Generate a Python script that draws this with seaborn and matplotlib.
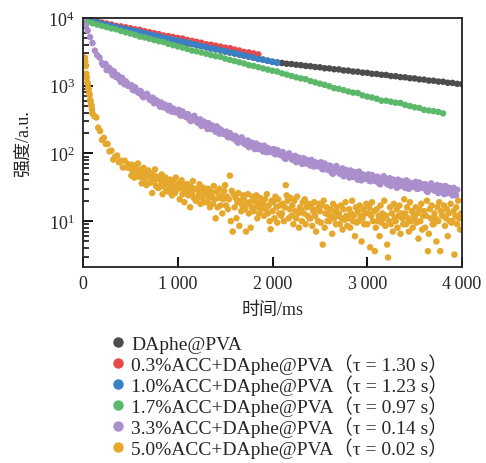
import numpy as np
import pandas as pd
import seaborn as sns
import matplotlib.pyplot as plt
from matplotlib.lines import Line2D
from matplotlib.ticker import FixedLocator, FuncFormatter, LogLocator, LogFormatterMathtext

# -------------------- data --------------------
labels = [
    "DAphe@PVA",
    "0.3%ACC+DAphe@PVA（τ = 1.30 s）",
    "1.0%ACC+DAphe@PVA（τ = 1.23 s）",
    "1.7%ACC+DAphe@PVA（τ = 0.97 s）",
    "3.3%ACC+DAphe@PVA（τ = 0.14 s）",
    "5.0%ACC+DAphe@PVA（τ = 0.02 s）",
]
colors = ["#4d4d4d", "#e64a4a", "#3b80c6", "#5cb96c", "#ab8fcc", "#e6a82c"]

# time in ms, intensity in a.u.
black_t = np.arange(0, 4001, 50)
black_v = [9450, 9150, 8800, 8500, 8200, 7900, 7620, 7350, 7080, 6830,
           6590, 6350, 6130, 5910, 5700, 5500, 5310, 5110, 4930, 4760,
           4590, 4420, 4270, 4120, 3970, 3830, 3690, 3560, 3440, 3320,
           3200, 3090, 2980, 2880, 2780, 2690, 2600, 2510, 2430, 2340,
           2260, 2210, 2170, 2110, 2090, 2040, 2010, 1960, 1940, 1890,
           1870, 1810, 1800, 1750, 1740, 1680, 1670, 1620, 1610, 1560,
           1550, 1500, 1490, 1450, 1440, 1390, 1380, 1340, 1330, 1290,
           1280, 1240, 1230, 1190, 1185, 1150, 1145, 1105, 1100, 1065,
           1055]

red_t = np.arange(0, 1851, 50)
red_v = [9770, 9460, 9140, 8950, 8570, 8300, 8020, 7650, 7520, 7280,
         7050, 6810, 6680, 6380, 6170, 5970, 5780, 5520, 5410, 5240,
         5070, 4980, 4740, 4590, 4450, 4310, 4100, 4030, 3900, 3780,
         3650, 3580, 3420, 3310, 3150, 3100, 3000, 2900]

blue_t = np.arange(0, 2051, 50)
blue_v = [9550, 9210, 8890, 8650, 8260, 7980, 7690, 7320, 7140, 6900,
          6650, 6410, 6270, 5970, 5750, 5560, 5360, 5100, 4980, 4810,
          4630, 4470, 4370, 4160, 4010, 3860, 3730, 3550, 3470, 3350,
          3230, 3110, 3050, 2900, 2790, 2690, 2600, 2480, 2420, 2330,
          2250, 2170]

green_t = np.arange(0, 3801, 50)
green_v = [9120, 8730, 8360, 8000, 7660, 7330, 7010, 6800, 6430, 6150,
           5890, 5640, 5310, 5160, 4940, 4730, 4530, 4420, 4150, 3970,
           3800, 3650, 3500, 3300, 3220, 3090, 2970, 2840, 2730, 2680,
           2510, 2410, 2310, 2220, 2130, 2010, 1960, 1880, 1800, 1730,
           1660, 1620, 1520, 1460, 1390, 1330, 1280, 1250, 1170, 1120,
           1070, 1030, 980, 920, 900, 860, 820, 790, 780, 720,
           690, 670, 640, 600, 600, 580, 560, 555, 520, 500,
           480, 470, 440, 430, 420, 410, 390]

purple_t = np.arange(0, 3951, 25)
purple_v = [9680, 7780, 6490, 5210, 4260, 3300, 2820, 2600, 2160, 2080,
            1700, 1840, 1590, 1630, 1340, 1370, 1140, 1180, 1160, 1000,
            1010, 873, 948, 817, 840, 705, 724, 759, 637, 643,
            550, 608, 540, 565, 480, 508, 435, 460, 461, 406,
            427, 367, 417, 359, 380, 313, 331, 359, 295, 302,
            254, 295, 257, 279, 229, 248, 209, 224, 226, 195,
            204, 176, 200, 172, 182, 150, 158, 172, 141, 147,
            124, 145, 129, 140, 116, 126, 107, 117, 120, 105,
            112, 98, 112, 98, 105, 86, 92, 100, 83, 87,
            74, 87, 78, 85, 71, 78, 66, 72, 74, 65,
            70, 59, 71, 60, 66, 52, 58, 65, 52, 56,
            46, 57, 50, 56, 45, 51, 41, 47, 49, 42,
            46, 39, 48, 41, 45, 36, 40, 46, 37, 40,
            33, 41, 36, 41, 33, 37, 31, 35, 37, 32,
            36, 30, 37, 32, 35, 28, 32, 36, 29, 31,
            26, 33, 29, 33, 26, 30, 24, 28, 29]

# in-between readings of the purple band (it is thicker than one row of dots)
purple_t2 = np.arange(212.5, 3950, 25)
purple_v2 = [2020, 2100, 1770, 1740, 1430, 1490, 1440, 1230, 1310, 1050,
             1105, 988, 1020, 853, 856, 783, 820, 676, 721, 701,
             611, 664, 578, 583, 490, 525, 527, 461, 504, 413,
             445, 407, 439, 361, 374, 345, 374, 300, 333, 329,
             282, 318, 274, 282, 230, 256, 259, 223, 251, 196,
             218, 195, 210, 173, 179, 165, 179, 144, 159, 158,
             136, 155, 134, 140, 116, 129, 131, 114, 130, 104,
             116, 106, 116, 97, 101, 94, 103, 83, 93, 92,
             80, 92, 80, 84, 70, 79, 80, 70, 80, 64,
             72, 65, 74, 58, 62, 57, 65, 50, 59, 59,
             50, 60, 51, 55, 44, 51, 53, 45, 54, 40,
             48, 43, 49, 39, 42, 39, 45, 35, 41, 42,
             35, 43, 36, 39, 31, 37, 39, 33, 40, 30,
             36, 33, 38, 30, 33, 31, 35, 27, 32, 33,
             28, 34, 29, 32, 25, 30, 31, 26, 31, 24]

yellow_t = np.concatenate([np.arange(20, 100, 5), np.arange(100, 500, 20),
                           np.arange(500, 4000, 10)])
yellow_v = [2600, 2250, 1950, 1500, 1320, 1120, 1080, 930, 900, 780,
            730, 620, 590, 520, 510, 450,
            389, 355, 339, 240, 214, 158, 170, 138, 138, 107,
            110, 81, 89, 93, 74, 78, 62, 78, 62, 69,
            60, 47, 68, 52, 44, 63, 55, 46, 71, 50,
            45, 58, 36, 49, 61, 41, 53, 34, 47, 56,
            52, 37, 43, 26, 49, 39, 58, 33, 45, 31,
            31, 41, 34, 49, 25, 38, 32, 44, 28, 40,
            35, 27, 41, 30, 24, 38, 32, 26, 44, 29,
            30, 36, 21, 31, 40, 25, 33, 19, 29, 35,
            35, 24, 28, 16, 32, 26, 39, 22, 30, 20,
            21, 29, 24, 35, 18, 26, 22, 31, 19, 28,
            25, 19, 30, 22, 16, 27, 23, 18, 33, 21,
            11, 27, 16, 22, 30, 17, 24, 13, 21, 28,
            34, 17, 23, 15, 21, 47, 10, 28, 7, 25,
            16, 22, 11, 19, 26, 8.5, 20, 14, 17, 24,
            21, 15, 7, 18, 25, 13, 19, 8, 16, 23,
            14, 20, 16, 24, 11, 18, 13, 22, 15, 19,
            18, 12, 21, 15, 25, 13, 17, 10, 7.6, 20,
            14, 19, 11, 23, 16, 9.5, 21, 13, 17, 12,
            13, 18, 10, 16, 34, 24, 20, 11, 15, 22,
            12, 17, 9, 20, 14, 11, 23, 13, 8, 16,
            15, 10, 19, 13, 21, 9, 16, 12, 18, 11,
            11, 16, 8.5, 14, 19, 12, 7, 15, 10, 18,
            14, 9.5, 17, 4.5, 20, 8, 13, 16, 10, 12.5,
            10, 15, 12, 6.5, 18, 11, 14, 9, 16, 12,
            13, 9, 17, 11, 7.5, 15, 10.5, 19, 12, 8.5,
            11, 15, 8, 13, 20, 10, 12, 6, 16, 9.5,
            14, 10, 17, 12, 5, 11, 15, 9, 13, 18,
            9, 13, 16, 4.1, 12, 19, 10, 14, 3.6, 8,
            15, 10, 12, 6, 17, 9.5, 13, 11, 20, 8.5,
            12, 4.5, 2.9, 10, 16, 9, 13, 7, 18, 11,
            10, 15, 8, 12, 17, 6.5, 13, 11, 9, 21,
            13, 9, 16, 11, 7, 19, 10, 14, 8, 12,
            11, 16, 9.5, 13, 5.5, 15, 10, 18, 7.5, 12,
            14, 8, 12, 20, 3.6, 6.5, 15, 11, 17, 9,
            9, 13, 11, 5, 16, 10, 19, 3.6, 14, 12,
            12, 17, 8.5, 11, 15, 6, 13, 10, 18, 9.5,
            10, 14, 3.2, 12, 16, 9, 20, 11, 7.5, 13]

x_ticks = [0, 1000, 2000, 3000, 4000]
y_ticks = [10, 100, 1000, 10000]

# -------------------- long table --------------------
series = [
    (black_t, black_v),
    (red_t, red_v),
    (blue_t, blue_v),
    (green_t, green_v),
    (np.concatenate([purple_t, purple_t2]), purple_v + purple_v2),
    (yellow_t, yellow_v),
]
frames = []
for name, (t, v) in zip(labels, series):
    frames.append(pd.DataFrame({"time": t, "intensity": v, "sample": name}))
df = pd.concat(frames, ignore_index=True)

# -------------------- plot --------------------
sns.set_theme(style="ticks")
plt.rcParams["font.family"] = ["Liberation Serif", "Noto Sans CJK SC"]
plt.rcParams["mathtext.fontset"] = "stix"

fig = plt.figure(figsize=(4.86, 4.64), dpi=100)
ax = fig.add_axes([83 / 486, 1 - 268 / 464, (462 - 83) / 486, (268 - 19) / 464])

sns.scatterplot(data=df, x="time", y="intensity", hue="sample",
                hue_order=labels, palette=dict(zip(labels, colors)),
                s=22, linewidth=0, legend=False, ax=ax)

ax.set_yscale("log")
ax.set_xlim(0, 4000)
ax.set_ylim(2.1, 1e4)

ax.xaxis.set_major_locator(FixedLocator(x_ticks))
ax.xaxis.set_major_formatter(FuncFormatter(lambda v, p: f"{int(v):,}".replace(",", "\u2009")))
ax.yaxis.set_major_locator(FixedLocator(y_ticks))
ax.yaxis.set_major_formatter(LogFormatterMathtext())
ax.yaxis.set_minor_locator(LogLocator(subs=np.arange(2, 10), numticks=20))
ax.xaxis.set_minor_locator(FixedLocator([]))

ax.tick_params(axis="both", which="major", direction="in", length=7, width=1.3,
               labelsize=13, color="black", top=False, right=False, pad=6)
ax.tick_params(axis="y", which="minor", direction="in", length=4, width=1.1,
               color="black", left=True, right=False)
for sp in ax.spines.values():
    sp.set_linewidth(1.3)
    sp.set_color("#222222")

ax.set_xlabel("时间/ms", fontsize=13, labelpad=6)
ax.set_ylabel("强度/a.u.", fontsize=13, labelpad=12)

handles = [Line2D([], [], marker="o", linestyle="", markersize=6.5, color=c,
                  markeredgecolor=c) for c in colors]
fig.legend(handles, labels, loc="upper left", bbox_to_anchor=(109 / 486, 1 - 336 / 464),
           frameon=False, fontsize=14, handletextpad=0.25, labelspacing=0.02,
           handlelength=0.9, borderpad=0, borderaxespad=0)

fig.savefig("out.png", dpi=100)
